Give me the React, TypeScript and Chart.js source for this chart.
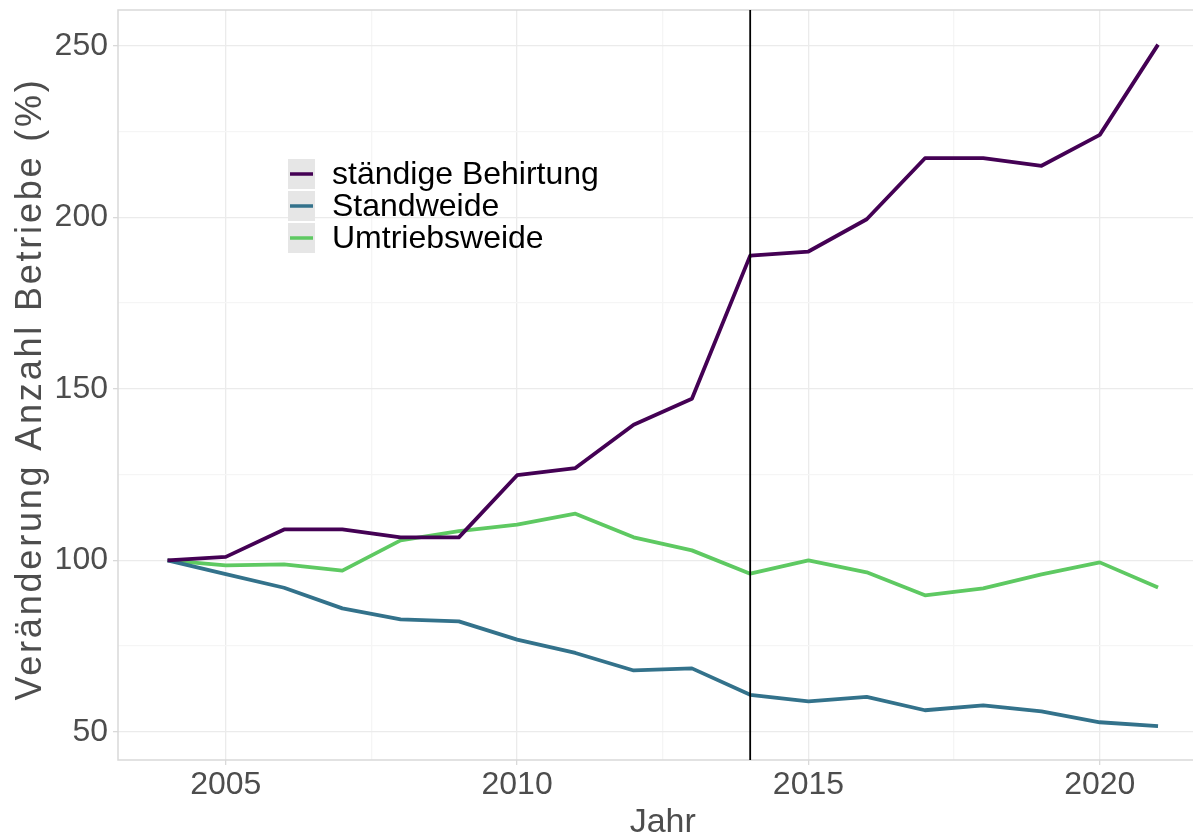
import { useEffect, useRef } from "react";
import { Chart, registerables, type Plugin } from "chart.js";

Chart.register(...registerables);

const years = [
	2004, 2005, 2006, 2007, 2008, 2009, 2010, 2011, 2012, 2013, 2014, 2015, 2016, 2017, 2018, 2019, 2020, 2021,
];

const behirtung = [
	100, 101, 109, 109, 106.7, 106.7, 124.8, 126.9, 139.5, 147.1, 188.8, 190, 199.4, 217.2, 217.2, 215, 224, 250.3,
];
const standweide = [
	100, 96, 92, 86, 82.8, 82.2, 76.9, 73, 67.9, 68.5, 60.8, 58.9, 60.2, 56.3, 57.7, 56, 52.8, 51.7,
];
const umtriebsweide = [
	100, 98.5, 98.8, 97, 105.8, 108.5, 110.4, 113.6, 106.7, 102.9, 96.1, 100, 96.5, 89.8, 91.8, 95.9, 99.4, 92.1,
];

const seriesLabels = ["ständige Behirtung", "Standweide", "Umtriebsweide"];
const seriesColors = ["#440154", "#33728B", "#5EC962"];

const xTicks = [2005, 2007.5, 2010, 2012.5, 2015, 2017.5, 2020];
const yTicks = [50, 75, 100, 125, 150, 175, 200, 225, 250];
const markerYear = 2014;

const xTitle = "Jahr";
const yTitle = "Veränderung Anzahl Betriebe (%)";

const FONT = '"Liberation Sans", Arial, sans-serif';
const MAJOR = "#ebebeb";
const MINOR = "#f5f5f5";
const FRAME = "#d9d9d9";
const TEXT = "#4d4d4d";

const toPoints = (vals: number[]) => years.map((x, i) => ({ x, y: vals[i] }));

// panel frame, marker line, legend and axis titles
const decorations: Plugin<"line"> = {
	id: "decorations",
	beforeDatasetsDraw(chart) {
		const { ctx, chartArea: a } = chart;
		ctx.save();
		ctx.strokeStyle = FRAME;
		ctx.lineWidth = 1.5;
		ctx.beginPath();
		ctx.moveTo(a.right + 2, a.top);
		ctx.lineTo(a.left, a.top);
		ctx.lineTo(a.left, a.bottom);
		ctx.lineTo(a.right + 2, a.bottom);
		ctx.stroke();
		ctx.restore();
	},
	afterDatasetsDraw(chart) {
		const { ctx, chartArea: a, scales } = chart;
		const x = scales.x.getPixelForValue(markerYear);
		ctx.save();
		ctx.strokeStyle = "#000000";
		ctx.lineWidth = 1.8;
		ctx.beginPath();
		ctx.moveTo(x, a.top);
		ctx.lineTo(x, a.bottom);
		ctx.stroke();
		ctx.restore();
	},
	afterDraw(chart) {
		const { ctx, scales, chartArea: a } = chart;
		ctx.save();

		// legend
		const keyX = 288;
		const keyW = 27;
		const keyH = 30;
		const gap = 2;
		let top = 159;
		chart.data.datasets.forEach((ds) => {
			ctx.fillStyle = "#e6e6e6";
			ctx.fillRect(keyX, top, keyW, keyH);
			ctx.strokeStyle = ds.borderColor as string;
			ctx.lineWidth = 3.5;
			ctx.beginPath();
			ctx.moveTo(keyX + 2, top + keyH / 2);
			ctx.lineTo(keyX + keyW - 2, top + keyH / 2);
			ctx.stroke();
			ctx.fillStyle = "#000000";
			ctx.font = `32px ${FONT}`;
			ctx.textBaseline = "middle";
			ctx.textAlign = "left";
			ctx.fillText(ds.label as string, 332, top + keyH / 2 + 1);
			top += keyH + gap;
		});

		// axis titles, centred on the full panel range
		ctx.fillStyle = TEXT;
		ctx.font = `34px ${FONT}`;
		ctx.textAlign = "center";
		ctx.textBaseline = "alphabetic";
		ctx.fillText(xTitle, scales.x.getPixelForValue(2012.5), 832);

		ctx.translate(41, (a.top + a.bottom) / 2 + 4);
		ctx.rotate(-Math.PI / 2);
		ctx.font = `36px ${FONT}`;
		(ctx as CanvasRenderingContext2D & { letterSpacing: string }).letterSpacing = "2.8px";
		ctx.fillText(yTitle, 0, 0);
		ctx.restore();
	},
};

export default function App() {
	const canvasRef = useRef<HTMLCanvasElement | null>(null);

	useEffect(() => {
		document.body.style.margin = "0";
		if (!canvasRef.current) return;
		const series = [behirtung, standweide, umtriebsweide];
		const chart = new Chart(canvasRef.current, {
			type: "line",
			data: {
				datasets: series.map((vals, i) => ({
					label: seriesLabels[i],
					data: toPoints(vals),
					borderColor: seriesColors[i],
					backgroundColor: seriesColors[i],
					borderWidth: 3.8,
					pointRadius: 0,
					tension: 0,
					borderJoinStyle: "round" as const,
				})),
			},
			options: {
				responsive: true,
				maintainAspectRatio: false,
				animation: false,
				layout: { padding: { top: 10, left: 0, right: 0, bottom: 0 } },
				plugins: {
					legend: { display: false },
					tooltip: { enabled: false },
				},
				scales: {
					x: {
						type: "linear",
						min: 2003.15,
						max: 2021.6,
						afterBuildTicks: (scale) => {
							scale.ticks = xTicks.map((value) => ({ value }));
						},
						afterFit: (scale) => {
							scale.height = 75;
							scale.paddingLeft = 0;
							scale.paddingRight = 0;
						},
						border: { display: false },
						grid: {
							color: (c) => (c.tick.value % 5 === 0 ? MAJOR : MINOR),
							lineWidth: 1.3,
							tickLength: 5,
							tickColor: (c) => (c.tick.value % 5 === 0 ? FRAME : "rgba(0,0,0,0)"),
						},
						ticks: {
							autoSkip: false,
							maxRotation: 0,
							padding: 4,
							color: TEXT,
							font: { size: 32, family: FONT, lineHeight: 1 },
							callback: (v) => (Number(v) % 5 === 0 ? String(v) : ""),
						},
					},
					y: {
						type: "linear",
						min: 41.8,
						max: 260.4,
						afterBuildTicks: (scale) => {
							scale.ticks = yTicks.map((value) => ({ value }));
						},
						afterFit: (scale) => {
							scale.width = 118;
							scale.paddingTop = 0;
							scale.paddingBottom = 0;
						},
						border: { display: false },
						grid: {
							color: (c) => (c.tick.value % 50 === 0 ? MAJOR : MINOR),
							lineWidth: 1.3,
							tickLength: 5,
							tickColor: (c) => (c.tick.value % 50 === 0 ? FRAME : "rgba(0,0,0,0)"),
						},
						ticks: {
							autoSkip: false,
							padding: 5,
							color: TEXT,
							font: { size: 32, family: FONT, lineHeight: 1 },
							callback: (v) => (Number(v) % 50 === 0 ? String(v) : ""),
						},
					},
				},
			},
			plugins: [decorations],
		});
		return () => chart.destroy();
	}, []);

	return (
		<div style={{ position: "relative", width: 1193, height: 835, background: "#ffffff" }}>
			<canvas ref={canvasRef} />
		</div>
	);
}
